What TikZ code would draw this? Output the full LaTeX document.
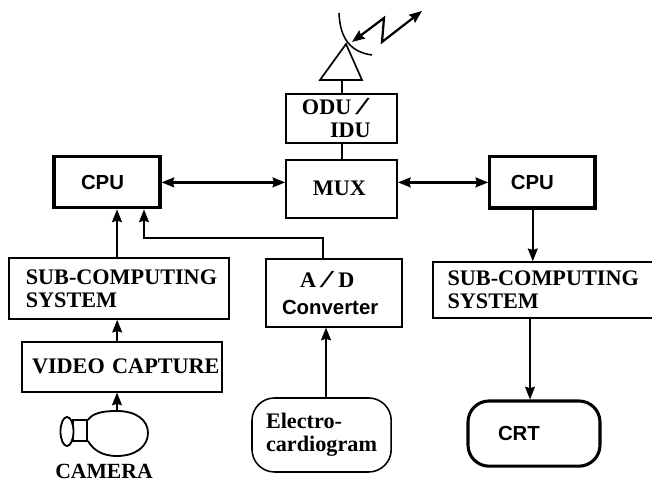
\documentclass[tikz,border=0pt]{standalone}
\usepackage{fontspec}
\usepackage{graphicx}
\setmainfont{Liberation Serif}
\setsansfont{Liberation Sans}
\usetikzlibrary{arrows.meta, shapes.geometric}
\newcommand{\wideslash}{\,{\mdseries\scalebox{2.4}[1.1]{/}}}
\tikzset{
  sansfont/.style={font=\fontsize{14.5}{17}\selectfont\sffamily\bfseries},
  seriffont/.style={font=\fontsize{15.8}{16.4}\selectfont\rmfamily\bfseries},
  mbox/.style={rectangle, draw, line width=1.1pt, fill=white, inner xsep=0pt, inner ysep=0pt,
               align=left, seriffont, text width=#1},
  cpubox/.style={mbox=#1, line width=2.2pt, sansfont},
  arr/.style={-{Stealth[length=9pt, width=7pt, inset=1pt]}, line width=1.3pt},
  arrboth/.style={{Stealth[length=9pt, width=7pt, inset=1pt]}-{Stealth[length=9pt, width=7pt, inset=1pt]}, line width=1.6pt},
}

\begin{document}
\begin{tikzpicture}
  \clip[use as bounding box] (0,0) rectangle (16.3,12.05);

  % Top row
  \node[cpubox=2.65cm, minimum height=1.275cm] (cpul) at (2.675, 7.49) {\hspace*{0.675cm}CPU};
  \node[mbox=2.78cm, minimum height=1.45cm] (mux) at (8.54, 7.33) {\hspace*{0.67cm}MUX};
  \node[mbox=2.78cm, minimum height=1.23cm] (odu) at (8.54, 9.09)
    {\hspace*{0.4cm}ODU\wideslash\\\hspace*{1.1cm}IDU};
  \node[cpubox=2.63cm, minimum height=1.28cm] (cpur) at (13.56, 7.49) {\hspace*{0.525cm}CPU};

  % Middle row
  \node[mbox=5.5cm, minimum height=1.53cm] (subl) at (2.975, 4.84)
    {\hspace*{0.42cm}SUB-COMPUTING\\\hspace*{0.42cm}SYSTEM};
  \node[mbox=3.4cm, minimum height=1.7cm] (adc) at (8.35, 4.73)
    {\hspace*{0.85cm}A\wideslash\,D\\[3pt]\hspace*{0.4cm}{\fontsize{14.5}{17}\selectfont\sffamily Converter}};
  \node[mbox=5.68cm, minimum height=1.4cm] (subr) at (13.66, 4.8)
    {\hspace*{0.37cm}SUB-COMPUTING\\\hspace*{0.37cm}SYSTEM};

  % Bottom row
  \node[mbox=5cm, minimum height=1.25cm] (video) at (3.05, 2.88) {\hspace*{0.25cm}VIDEO CAPTURE};
  \node[mbox=3.48cm, minimum height=1.85cm, rounded corners=16pt] (ecg) at (8.04, 1.175)
    {\hspace*{0.35cm}Electro-\\\hspace*{0.35cm}cardiogram};
  \node[cpubox=3.3cm, minimum height=1.63cm, rounded corners=15pt] (crt) at (13.35, 1.21) {\hspace*{0.75cm}CRT};

  % Camera
  \node[rectangle, draw, line width=1.5pt, minimum width=0.35cm, minimum height=0.525cm, inner sep=0pt] (lens) at (2.0, 1.2875) {};
  \node[ellipse, draw, line width=1.3pt, fill=white, minimum width=0.325cm, minimum height=0.725cm, inner sep=0pt] (lensfront) at (1.675, 1.2625) {};
  \draw[line width=1.3pt] (2.2,1.55) .. controls (2.3,1.7) and (2.5,1.775) .. (2.925,1.775)
    .. controls (3.4,1.775) and (3.7,1.55) .. (3.7,1.225)
    .. controls (3.7,0.9) and (3.4,0.65) .. (2.925,0.65)
    .. controls (2.5,0.65) and (2.3,0.85) .. (2.2,1.025);
  \coordinate (camtop) at (2.925, 1.775);
  \node[font=\fontsize{15.4}{17}\selectfont\bfseries, inner sep=0pt] (camlabel) at (2.6, 0.27) {CAMERA};

  % Antenna
  \coordinate (antleft) at (8.0, 10.05);
  \coordinate (antright) at (9.05, 10.05);
  \coordinate (antapex) at (8.65, 10.95);
  \coordinate (antbase) at (8.55, 10.05);
  \draw[line width=1.2pt] (antleft) -- (antright) -- (antapex) -- cycle;
  \draw[line width=1.2pt] (antbase) -- (antbase |- odu.north);
  \draw[line width=1.1pt] (8.475,11.725) .. controls (8.5,11.1) and (8.75,10.75) .. (9.3,10.675);
  \draw[arrboth] (8.8,11.0) -- (9.6,11.6) -- (9.55,11.0) -- (10.55,11.775);

  % Arrows
  \draw[arrboth] (cpul.east) -- (cpul.east -| mux.west);
  \draw[arrboth] (cpur.west -| mux.east) -- (cpur.west);
  \draw[line width=1.3pt] (odu.south) -- (mux.north);
  \draw[arr] ([xshift=-0.05cm]subl.north) -- ([xshift=-0.05cm]subl.north |- cpul.south);
  \draw[arr] ([xshift=-0.12cm]video.north) -- ([xshift=-0.12cm]video.north |- subl.south);
  \draw[arr] (camtop) -- (camtop |- video.south);
  \coordinate (adcbend) at (3.6, 6.1);
  \draw[arr] ([xshift=-0.27cm]adc.north) |- (adcbend) -- (adcbend |- cpul.south);
  \draw[arr] ([xshift=0.11cm]ecg.north) -- ([xshift=0.11cm]ecg.north |- adc.south);
  \draw[arr] ([xshift=-0.24cm]cpur.south) -- ([xshift=-0.24cm]cpur.south |- subr.north);
  \draw[arr] ([xshift=-0.1cm]crt.north |- subr.south) -- ([xshift=-0.1cm]crt.north);
\end{tikzpicture}
\end{document}
